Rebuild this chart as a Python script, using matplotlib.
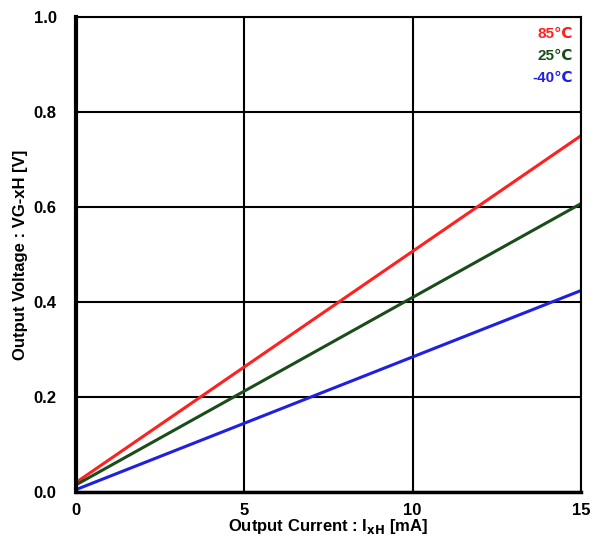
import numpy as np
import matplotlib
matplotlib.use('Agg')
from matplotlib import pyplot as plt

plt.rcParams['font.family'] = ['Liberation Sans', 'DejaVu Sans']
plt.rcParams['font.weight'] = 'bold'

# output current [mA]
current = [0, 15]
# output voltage [V] per temperature
v_85 = [0.020, 0.750]
v_25 = [0.015, 0.607]
v_m40 = [0.005, 0.424]
labels = ['85\u2103', '25\u2103', '-40\u2103']
colors = ['#ff2020', '#1a4d1a', '#2020e0']

xticks = [0, 5, 10, 15]
yticks = [0.0, 0.2, 0.4, 0.6, 0.8, 1.0]

fig = plt.figure(figsize=(5.95, 5.48), dpi=100)
ax = fig.add_axes([0.1277, 0.1022, 0.8488, 0.867])

for y, c in zip([v_85, v_25, v_m40], colors):
    ax.plot(current, y, color=c, lw=2.2, solid_capstyle='butt')

ax.set_xlim(0, 15)
ax.set_ylim(0, 1.0)
ax.set_xticks(xticks)
ax.set_yticks(yticks)
ax.set_xticklabels([str(t) for t in xticks], fontsize=12, fontweight='bold')
ax.set_yticklabels(['%.1f' % t for t in yticks], fontsize=12, fontweight='bold')
ax.tick_params(axis='y', length=0, pad=14)
ax.tick_params(axis='x', length=0, pad=8)
ax.grid(True, color='black', lw=1.5)
for s in ax.spines.values():
    s.set_linewidth(1.5)
ax.spines['left'].set_linewidth(3)
ax.spines['bottom'].set_linewidth(2.5)

ax.set_xlabel('Output Current : I$_{\\mathbf{xH}}$ [mA]', fontsize=12, fontweight='bold', labelpad=-1)
ax.set_ylabel('Output Voltage : VG-xH [V]', fontsize=12, fontweight='bold', labelpad=4)

for i, (lab, c) in enumerate(zip(labels, colors)):
    ax.text(0.985, 0.965 - i * 0.047, lab, color=c, fontsize=11, fontweight='bold',
            ha='right', va='center', transform=ax.transAxes)

fig.savefig('out.png', dpi=100)
